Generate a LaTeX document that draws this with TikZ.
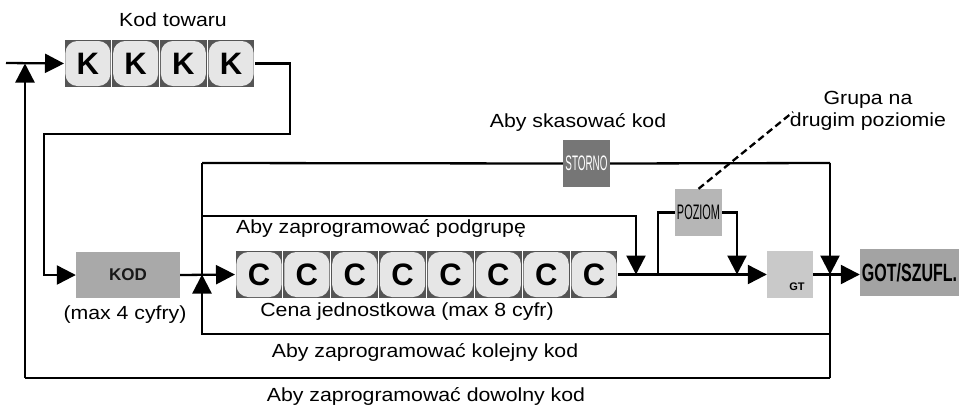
\documentclass[tikz,border=0pt]{standalone}
\usepackage{fontspec}
\setmainfont{Liberation Sans}
\usepackage{graphicx}
\usetikzlibrary{arrows.meta}
\definecolor{keydark}{HTML}{555555}
\definecolor{keylight}{HTML}{E6E6E6}
\definecolor{kodgray}{HTML}{A9A9A9}
\definecolor{stornogray}{HTML}{767676}
\definecolor{poziomgray}{HTML}{B6B6B6}
\definecolor{gtgray}{HTML}{C9C9C9}
\definecolor{gotgray}{HTML}{A3A3A3}
\newcommand{\wtxt}[1]{\scalebox{1.12}[1]{#1}}
\tikzset{
  flow/.style={line width=2.3pt},
  arr/.style={flow,-{Triangle[length=19pt,width=19pt]}},
  lbl/.style={font=\fontsize{19}{22}\selectfont,inner sep=0pt,text height=13.5pt,text depth=4pt},
  keygroup/.style={inner sep=0pt,minimum height=47pt,anchor=west},
  keylabel/.style={font=\fontsize{31}{32}\selectfont\bfseries,inner sep=0pt},
  graybox/.style={inner sep=0pt,minimum width=47pt,minimum height=47pt},
}
\begin{document}
\begin{tikzpicture}[x=1pt,y=-1pt]
\useasboundingbox (0,0) rectangle (961,408);

% key groups
\node[keygroup,minimum width=191pt] (kbox) at (64,63.5) {};
\node[keygroup,minimum width=383pt] (cbox) at (235,274.5) {};
\foreach \i in {0,1,2,3}{
  \pgfmathsetmacro\xa{64+\i*47.75}
  \fill[keydark] (\xa+0.6,40) rectangle (\xa+47.15,87);
  \fill[keylight,rounded corners=12pt] (\xa+1.4,41) rectangle (\xa+46.35,86);
  \node[keylabel] at (\xa+23.9,64) {K};
}
\foreach \i in {0,...,7}{
  \pgfmathsetmacro\xa{235+\i*47.875}
  \fill[keydark] (\xa+0.6,251) rectangle (\xa+47.3,298);
  \fill[keylight,rounded corners=12pt] (\xa+1.4,252) rectangle (\xa+46.5,297);
  \node[keylabel] at (\xa+24,275) {C};
}

% gray boxes
\node[graybox,fill=kodgray,minimum width=104pt,minimum height=46pt,
      font=\fontsize{17}{18}\selectfont\bfseries,text=black!90] (kod) at (128,275) {KOD};
\node[graybox,fill=stornogray,text=white,font=\fontsize{21}{22}\selectfont] (storno) at (586.5,163.5)
  {\scalebox{0.47}[1]{STORNO}};
\node[graybox,fill=poziomgray,text=black,font=\fontsize{21}{22}\selectfont] (poziom) at (698.5,212.5)
  {\scalebox{0.52}[1]{POZIOM}};
\node[graybox,fill=gtgray,minimum width=46pt] (gt) at (790,274.5) {};
\node[inner sep=0pt,font=\fontsize{11}{12}\selectfont\bfseries] (gtlbl) at (797,287) {GT};
\node[graybox,fill=gotgray,minimum width=99pt] (got) at (909.5,272.5)
  {\fontsize{25}{26}\selectfont\bfseries\scalebox{0.64}[1]{GOT/SZUFL.}};

% coordinates
\coordinate (entry) at (6,63);
\coordinate (kturn) at (290,134);
\coordinate (kleft) at (44,134);
\coordinate (bl) at (25,378);
\coordinate (br) at (830,378);
\coordinate (tl) at (202,163);
\coordinate (tr) at (830,163);
\coordinate (cl) at (202,334);
\coordinate (cr) at (830,334);
\coordinate (pl) at (202,216);
\coordinate (pr) at (636,216);
\coordinate (pzl) at (658,274.5);
\coordinate (pzr) at (737,274.5);
\coordinate (note) at (793,112);

% connectors
\draw[arr] (entry) -- (kbox.west);
\draw[arr] (kbox.east) -| (kturn) -- (kleft) |- (kod.west);
\draw[arr] (kod.east) -- (cbox.west);
\draw[arr] (cbox.east) -- (gt.west);
\draw[arr] (gt.east) -- (got.west |- gt.east);
\draw[flow] (br) -- (bl);
\draw[arr] (bl) -- (bl |- kbox.west);
\draw[flow] (tl) -- (storno.west);
\draw[flow] (storno.east) -- (tr);
\draw[flow] (tl) -- (cl) -- (cr);
\draw[arr] (cl) -- (cl |- cbox.west);
\draw[flow] (tr) -- (br);
\draw[arr] (tr) -- (tr |- gt.east);
\draw[arr] (pl) -- (pr) -- (pr |- cbox.east);
\draw[flow] (pzl) |- (poziom.west);
\draw[arr] (poziom.east) -| (pzr);
\draw[flow,dash pattern=on 7pt off 4pt] (poziom.north) -- (note);

% texts
\node[lbl] (tkod) at (173,22) {\wtxt{Kod towaru}};
\node[lbl] (tstorno) at (578,123) {\wtxt{Aby skasować kod}};
\node[lbl,align=center,text height=,text depth=] (tgrupa) at (868,111) {\wtxt{Grupa na}\\\wtxt{drugim poziomie}};
\node[lbl] (tpod) at (381,229) {\wtxt{Aby zaprogramować podgrupę}};
\node[lbl] (tmax4) at (125,315) {\wtxt{(max 4 cyfry)}};
\node[lbl] (tcena) at (407,312) {\wtxt{Cena jednostkowa (max 8 cyfr)}};
\node[lbl] (tkol) at (425,353) {\wtxt{Aby zaprogramować kolejny kod}};
\node[lbl] (tdow) at (426,397) {\wtxt{Aby zaprogramować dowolny kod}};
\end{tikzpicture}
\end{document}
